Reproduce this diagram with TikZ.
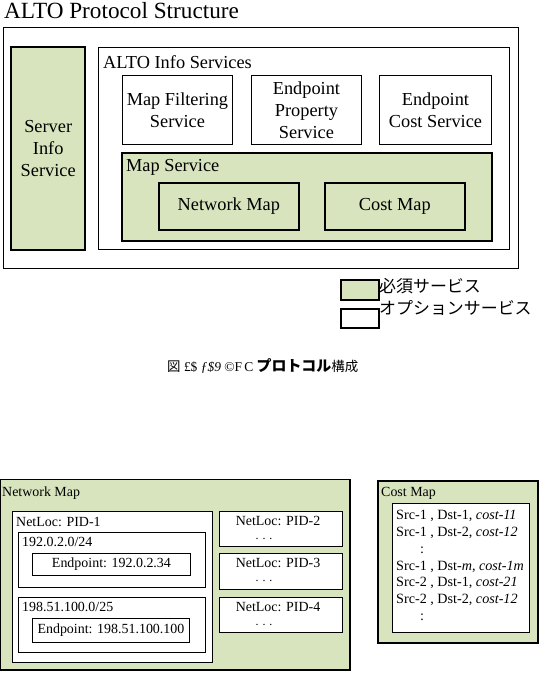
\documentclass[tikz,border=0pt]{standalone}
\usepackage{fontspec}
\setmainfont{Liberation Serif}
\newfontfamily\jp{Noto Sans CJK JP}
\definecolor{lgreen}{RGB}{215,228,189}
\begin{document}
\begin{tikzpicture}[x=1bp,y=-1bp,
  box/.style={draw=black,line width=0.9bp,fill=white,inner sep=0pt,anchor=north west},
  gbox/.style={box,fill=lgreen},
  thickbox/.style={line width=2.4bp},
  big/.style={font=\fontsize{18.4}{22}\selectfont,align=center,inner sep=0pt},
  small/.style={font=\fontsize{14}{17}\selectfont,inner sep=0pt},
  dots/.style={font=\fontsize{12}{12}\selectfont,inner sep=0pt},
  lbl/.style={inner sep=0pt,anchor=west}]
\useasboundingbox (0,0) rectangle (548,683);
% title
\node[lbl,font=\fontsize{23.3}{26}\selectfont] (title) at (4,11) {ALTO Protocol Structure};
% outer structure
\node[box,minimum width=515bp,minimum height=241bp] (outer) at (3,27) {};
\node[gbox,thickbox,minimum width=74bp,minimum height=203bp] (sis) at (10,46) {};
\node[big] (sistext) at (sis.center) {Server\\Info\\Service};
\node[box,minimum width=411bp,minimum height=202bp] (ais) at (98,47) {};
\node[lbl,big] (aislbl) at (103,62) {ALTO Info Services};
\node[box,minimum width=110bp,minimum height=69bp] (mfs) at (122,75) {};
\node[big] (mfstext) at (mfs.center) {Map Filtering\\Service};
\node[box,minimum width=110bp,minimum height=69bp] (eps) at (251,75) {};
\node[big] (epstext) at (eps.center) {Endpoint\\Property\\Service};
\node[box,minimum width=112bp,minimum height=69bp] (ecs) at (379,75) {};
\node[big] (ecstext) at (ecs.center) {Endpoint\\Cost Service};
\node[gbox,thickbox,minimum width=370bp,minimum height=88bp] (ms) at (121,152) {};
\node[lbl,big] (mslbl) at (126,167) {Map Service};
\node[gbox,line width=1.6bp,minimum width=140bp,minimum height=47bp] (nm) at (158,182) {};
\node[big] (nmtext) at (nm.center) {Network Map};
\node[gbox,line width=1.6bp,minimum width=140bp,minimum height=47bp] (cm) at (324,182) {};
\node[big] (cmtext) at (cm.center) {Cost Map};
% legend
\node[gbox,line width=1.6bp,minimum width=38bp,minimum height=20bp] (lg1) at (340,279) {};
\node[lbl,font=\jp\fontsize{17}{18}\selectfont] (lg1t) at (379,286) {必須サービス};
\node[box,line width=1.6bp,minimum width=38bp,minimum height=19bp] (lg2) at (340,308) {};
\node[lbl,font=\jp\fontsize{17}{18}\selectfont] (lg2t) at (379,308) {オプションサービス};
% caption
\node[lbl,font=\fontsize{13.5}{15}\selectfont] (cap) at (167,366) {{\jp 図} £\$ \textit{ƒ\$9} ©F\,C {\jp\bfseries\fontsize{15}{15}\selectfont プロトコル}{\jp 構成}};
% network map
\node[gbox,minimum width=349bp,minimum height=190bp] (nmap) at (0,479) {};
\draw[line width=2.4bp] (nmap.north east) -- (nmap.south east) -- (nmap.south west);
\node[lbl,small] (nmaplbl) at (2,493) {Network Map};
\node[box,minimum width=200bp,minimum height=151bp] (pid1) at (12,511) {};
\node[lbl,small] (pid1lbl) at (16,522) {NetLoc: PID-1};
\node[box,minimum width=187bp,minimum height=55bp] (sub1) at (18,532) {};
\node[lbl,small] (sub1lbl) at (22,542) {192.0.2.0/24};
\node[box,minimum width=158bp,minimum height=22bp] (ep1) at (32,553) {};
\node[small] (ep1t) at (ep1.center) {Endpoint: 192.0.2.34};
\node[box,minimum width=187bp,minimum height=55bp] (sub2) at (18,597) {};
\node[lbl,small] (sub2lbl) at (22,607) {198.51.100.0/25};
\node[box,minimum width=157bp,minimum height=24bp] (ep2) at (32,618) {};
\node[small] (ep2t) at (ep2.center) {Endpoint: 198.51.100.100};
\node[box,minimum width=123bp,minimum height=35bp] (pid2) at (219,511) {};
\node[small] (pid2t) at (278,521) {NetLoc: PID-2};
\node[dots] (pid2d) at (264,539) {. . .};
\node[box,minimum width=123bp,minimum height=36bp] (pid3) at (219,553) {};
\node[small] (pid3t) at (278,563) {NetLoc: PID-3};
\node[dots] (pid3d) at (264,581) {. . .};
\node[box,minimum width=123bp,minimum height=35bp] (pid4) at (219,597) {};
\node[small] (pid4t) at (278,607) {NetLoc: PID-4};
\node[dots] (pid4d) at (264,625) {. . .};
% cost map
\node[gbox,thickbox,minimum width=160bp,minimum height=162bp] (cmap) at (377,480) {};
\node[lbl,small] (cmaplbl) at (381,493) {Cost Map};
\node[box,minimum width=137bp,minimum height=129bp] (cml) at (392,503) {};
\node[small,anchor=north west,align=left,font=\fontsize{14.2}{16.9}\selectfont] (cmlt) at (396,510)
 {Src-1 , Dst-1, \textit{cost-11}\\
  Src-1 , Dst-2, \textit{cost-12}\\
  \hspace*{24bp}:\\
  Src-1 , Dst-\textit{m}, \textit{cost-1m}\\
  Src-2 , Dst-1, \textit{cost-21}\\
  Src-2 , Dst-2, \textit{cost-12}\\
  \hspace*{24bp}:};
\end{tikzpicture}
\end{document}
